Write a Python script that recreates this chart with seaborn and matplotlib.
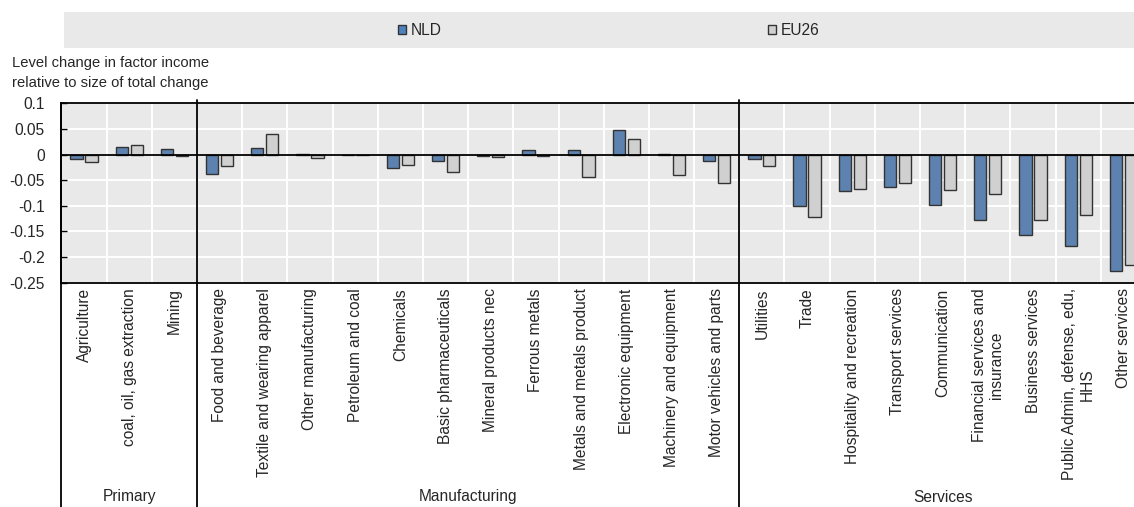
import pandas as pd
import numpy as np
import matplotlib
matplotlib.use("Agg")
import matplotlib.pyplot as plt
import matplotlib.transforms as mtransforms
from matplotlib.patches import Patch, Rectangle
import seaborn as sns

# --- data ---
sectors = [
    "Agriculture", "coal, oil, gas extraction", "Mining",
    "Food and beverage", "Textile and wearing apparel", "Other manufacturing",
    "Petroleum and coal", "Chemicals", "Basic pharmaceuticals",
    "Mineral products nec", "Ferrous metals", "Metals and metals product",
    "Electronic equipment", "Machinery and equipment", "Motor vehicles and parts",
    "Utilities", "Trade", "Hospitality and recreation", "Transport services",
    "Communication", "Financial services and\ninsurance", "Business services",
    "Public Admin, defense, edu,\nHHS", "Other services",
]
groups = ["Primary", "Manufacturing", "Services"]
group_sizes = [3, 12, 9]

nld = [-0.008, 0.015, 0.010, -0.038, 0.013, 0.0005, -0.0005, -0.026, -0.012,
       -0.003, 0.008, 0.008, 0.047, 0.001, -0.012, -0.008, -0.101, -0.072,
       -0.064, -0.098, -0.128, -0.157, -0.178, -0.227]
eu26 = [-0.015, 0.019, -0.003, -0.023, 0.040, -0.007, -0.001, -0.021, -0.034,
        -0.004, -0.002, -0.043, 0.030, -0.040, -0.055, -0.023, -0.121, -0.068,
        -0.055, -0.070, -0.077, -0.128, -0.117, -0.216]

series_names = ["NLD", "EU26"]
y_ticks = [0.1, 0.05, 0, -0.05, -0.1, -0.15, -0.2, -0.25]
y_tick_labels = ["0.1", "0.05", "0", "-0.05", "-0.1", "-0.15", "-0.2", "-0.25"]
y_title = "Level change in factor income\nrelative to size of total change"

colors = {"NLD": "#4f81bd", "EU26": "#d0d0d0"}
bg = "#e9e9e9"
fs = 11.2

df = pd.DataFrame({
    "sector": sectors * 2,
    "value": nld + eu26,
    "region": ["NLD"] * len(sectors) + ["EU26"] * len(sectors),
})

sns.set_theme(style="darkgrid", rc={
    "axes.facecolor": bg,
    "grid.color": "white",
    "grid.linewidth": 1.4,
    "axes.unicode_minus": False,
})
plt.rcParams["font.family"] = ["Liberation Sans", "DejaVu Sans"]

fig = plt.figure(figsize=(11.34, 5.07), dpi=100)
W, H = 1134, 507
ax = fig.add_axes([61.4 / W, (H - 282.7) / H, (1146 - 61.4) / W, (282.7 - 103.3) / H])

sns.barplot(data=df, x="sector", y="value", hue="region", order=sectors,
            hue_order=series_names, palette=colors, width=0.66, gap=0.18,
            edgecolor="#333333", linewidth=1.0, legend=False, ax=ax)

ax.set_xlim(-0.5, len(sectors) - 0.5)
ax.set_ylim(-0.25, 0.1)
ax.set_yticks(y_ticks)
ax.set_yticklabels(y_tick_labels)
ax.set_xlabel("")
ax.set_ylabel("")

# grid: horizontal at ticks, vertical at category boundaries
ax.set_xticks(np.arange(len(sectors) + 1) - 0.5, minor=True)
ax.grid(False, axis="x", which="major")
ax.grid(True, axis="x", which="minor", color="white", lw=1.4)
ax.set_axisbelow(True)

ax.tick_params(axis="x", which="both", length=0, pad=4, labelsize=fs,
               labelrotation=90)
for lab in ax.get_xticklabels():
    lab.set_ha("center")
    lab.set_va("top")
ax.tick_params(axis="y", direction="in", length=4, width=1, color="black",
               pad=12, labelsize=fs, left=True)

for side in ["top", "left", "bottom"]:
    ax.spines[side].set_visible(True)
    ax.spines[side].set_color("black")
    ax.spines[side].set_linewidth(1.3)
ax.spines["right"].set_visible(False)

ax.axhline(0, color="black", lw=1.3, zorder=3)

# group separators running through the label area
trans = ax.get_xaxis_transform()
bounds = np.cumsum([0] + group_sizes) - 0.5
for b in bounds[:-1]:
    y_top = 1.0 if b == bounds[0] else 1.017
    ax.plot([b, b], [y_top, -1.4], transform=trans, color="black", lw=1.3,
            clip_on=False, zorder=5)

gtrans = mtransforms.blended_transform_factory(ax.transData, fig.transFigure)
for g, lo, hi in zip(groups, bounds[:-1], bounds[1:]):
    ax.text((lo + hi) / 2, 10 / H, g, transform=gtrans, ha="center",
            va="center", fontsize=fs)

# y title
fig.text(12 / W, 1 - 56 / H, y_title, ha="left", va="top", fontsize=10.6,
         linespacing=1.52)

# legend band
fig.patches.append(Rectangle((64 / W, (H - 48) / H), 1 - 64 / W, 36 / H,
                             transform=fig.transFigure, facecolor=bg,
                             edgecolor="none", zorder=0))
handles = [Patch(facecolor=colors[s], edgecolor="#333333", lw=1.0)
           for s in series_names]
fig.legend(handles, series_names, loc="center", ncol=2,
           bbox_to_anchor=(608.5 / W, 1 - 30.5 / H), frameon=False,
           fontsize=fs, handlelength=0.55, handleheight=0.55,
           handletextpad=0.25, columnspacing=21.0, borderpad=0)

fig.savefig("out.png", dpi=100)
